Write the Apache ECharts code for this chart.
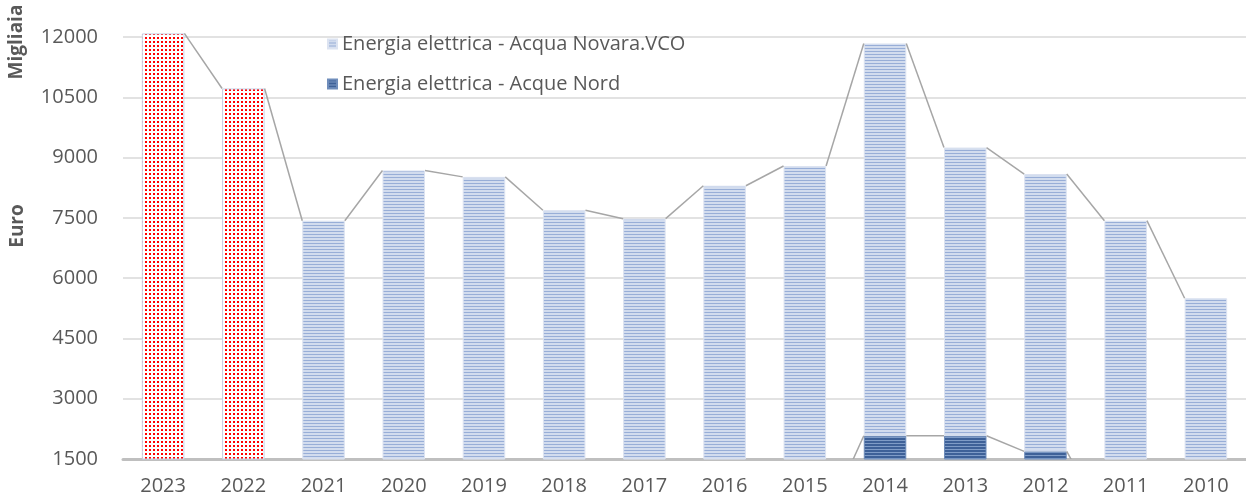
<!DOCTYPE html>
<html>
<head>
<meta charset="utf-8">
<script src="https://cdn.jsdelivr.net/npm/echarts@6/dist/echarts.min.js"></script>
<style>
  html, body { margin: 0; padding: 0; background: #fff; }
  #chart { width: 1246px; height: 502px; }
</style>
</head>
<body>
<div id="chart"></div>
<script>
// valori in migliaia di euro
const years = ["2023", "2022", "2021", "2020", "2019", "2018", "2017", "2016", "2015", "2014", "2013", "2012", "2011", "2010"];
const acquaNovara = [12090, 10720, 7430, 8680, 8520, 7690, 7480, 8300, 8790, 9760, 7170, 6900, 7430, 5500];
const acqueNord = [0, 0, 0, 0, 0, 0, 0, 0, 0, 2080, 2080, 1690, 0, 0];
const redYears = ["2023", "2022"];
const yTicks = { min: 1500, max: 12000, step: 1500, top: 12150 };

const BAR_RATIO = 0.53;
const labelColor = "#595959";

function pattern(w, h, draw) {
  const c = document.createElement("canvas");
  c.width = w;
  c.height = h;
  draw(c.getContext("2d"));
  return { image: c, repeat: "repeat" };
}

const stripesLight = pattern(4, 3, (ctx) => {
  ctx.fillStyle = "#d2dcee";
  ctx.fillRect(0, 0, 4, 3);
  ctx.fillStyle = "#98aed7";
  ctx.fillRect(0, 0, 4, 1);
});
const stripesDark = pattern(4, 3, (ctx) => {
  ctx.fillStyle = "#7f9cc7";
  ctx.fillRect(0, 0, 4, 3);
  ctx.fillStyle = "#3e6198";
  ctx.fillRect(0, 0, 4, 2);
});
const redDots = pattern(4, 4, (ctx) => {
  ctx.fillStyle = "#ffffff";
  ctx.fillRect(0, 0, 4, 4);
  ctx.fillStyle = "#ff0000";
  ctx.fillRect(1, 1, 2, 2);
});

const totals = acquaNovara.map((v, i) => v + acqueNord[i]);

// linee di serie: dal bordo destro di una barra al bordo sinistro della successiva
function seriesLinesData(tops) {
  const out = [];
  for (let i = 0; i < tops.length - 1; i++) out.push([i, tops[i], tops[i + 1]]);
  return out;
}

function renderSeriesLine(params, api) {
  const i = api.value(0);
  const a = api.coord([i, api.value(1)]);
  const b = api.coord([i + 1, api.value(2)]);
  const half = (api.size([1, 0])[0] * BAR_RATIO) / 2;
  return {
    type: "line",
    shape: { x1: a[0] + half, y1: a[1], x2: b[0] - half, y2: b[1] },
    style: { stroke: "#a6a6a6", lineWidth: 1.5 }
  };
}

const novaraData = acquaNovara.map((v, i) => {
  if (redYears.indexOf(years[i]) >= 0) {
    return { value: v, itemStyle: { color: redDots, borderColor: "#c9d2e6", borderWidth: 1 } };
  }
  return v;
});

// griglia visibile solo fino a 12000, l'ultima linea (top) resta trasparente
const gridColors = [];
for (let v = yTicks.min; v <= yTicks.max; v += yTicks.step) gridColors.push("#d9d9d9");
gridColors.push("rgba(0,0,0,0)");

function axisTitle(text, x, y) {
  return {
    type: "text",
    x: x,
    y: y,
    rotation: Math.PI / 2,
    style: {
      text: text,
      fill: labelColor,
      font: "bold 19px 'Open Sans'",
      align: "center",
      verticalAlign: "middle"
    }
  };
}

const myChart = echarts.init(document.getElementById("chart"));
const option = {
  animation: false,
  textStyle: { fontFamily: "Open Sans" },
  grid: { left: 123, right: 0, top: 31, bottom: 43, containLabel: false },
  legend: {
    data: ["Energia elettrica - Acqua Novara.VCO", "Energia elettrica - Acque Nord"],
    orient: "vertical",
    left: 322,
    top: 25,
    itemWidth: 9,
    itemHeight: 9,
    itemGap: 12,
    icon: "rect",
    textStyle: { color: labelColor, fontSize: 20, fontFamily: "Open Sans", lineHeight: 28 }
  },
  xAxis: {
    type: "category",
    data: years,
    axisTick: { show: false },
    axisLine: { show: true, onZero: false, lineStyle: { color: "#bfbfbf", width: 3 } },
    axisLabel: { color: labelColor, fontSize: 20, margin: 17 }
  },
  yAxis: {
    type: "value",
    min: yTicks.min,
    max: yTicks.top,
    interval: yTicks.step,
    axisLine: { show: false },
    axisTick: { show: false },
    axisLabel: {
      color: labelColor,
      fontSize: 20,
      margin: 25,
      showMaxLabel: false,
      formatter: (v) => (v > yTicks.max ? "" : String(v))
    },
    splitLine: { lineStyle: { color: gridColors, width: 1.5 } }
  },
  graphic: [axisTitle("Migliaia", 17, 42), axisTitle("Euro", 18, 226)],
  series: [
    {
      name: "Energia elettrica - Acque Nord",
      type: "bar",
      stack: "tot",
      barWidth: BAR_RATIO * 100 + "%",
      data: acqueNord,
      itemStyle: { color: stripesDark, borderColor: "#6f8dbb", borderWidth: 1 }
    },
    {
      name: "Energia elettrica - Acqua Novara.VCO",
      type: "bar",
      stack: "tot",
      barWidth: BAR_RATIO * 100 + "%",
      data: novaraData,
      itemStyle: { color: stripesLight, borderColor: "#dce3f1", borderWidth: 1 }
    },
    {
      name: "linee-nord",
      type: "custom",
      clip: true,
      renderItem: renderSeriesLine,
      encode: { x: 0, y: [1, 2] },
      data: seriesLinesData(acqueNord),
      z: 3
    },
    {
      name: "linee-totale",
      type: "custom",
      clip: true,
      renderItem: renderSeriesLine,
      encode: { x: 0, y: [1, 2] },
      data: seriesLinesData(totals),
      z: 3
    }
  ]
};
myChart.setOption(option);
window.addEventListener("resize", function () {
  myChart.resize();
});
</script>
</body>
</html>
